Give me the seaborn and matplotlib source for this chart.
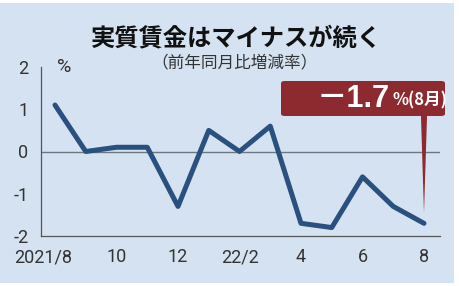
import matplotlib
matplotlib.use("Agg")
import matplotlib.pyplot as plt
import matplotlib.transforms as mtrans
import seaborn as sns
import pandas as pd
from matplotlib.patches import Rectangle, FancyBboxPatch, Polygon

months = ["2021/8", "9", "10", "11", "12", "22/1", "22/2", "3", "4", "5", "6", "7", "8"]
values = [1.1, 0.0, 0.1, 0.1, -1.3, 0.5, 0.0, 0.6, -1.7, -1.8, -0.6, -1.3, -1.7]
tick_labels = ["2021/8", "10", "12", "22/2", "4", "6", "8"]
y_ticks = [2, 1, 0, -1, -2]
title = "実質賃金はマイナスが続く"
subtitle = "（前年同月比増減率）"
callout_value = "－1.7"
callout_unit = "%(8月)"

sns.set_theme(style="white")
jp = ["Noto Sans CJK JP", "DejaVu Sans"]
plt.rcParams["font.family"] = ["Roboto", "Noto Sans CJK JP", "DejaVu Sans"]

bg = "#d5e2f1"
line_c = "#29507f"
red = "#8c2a2f"
txt = "#333333"

fig = plt.figure(figsize=(4.6, 2.86), dpi=100, facecolor="white")
fig.patches.append(Rectangle((0, 0.012), 0.988, 0.978, transform=fig.transFigure,
                             facecolor=bg, edgecolor="none", zorder=-5))
ax = fig.add_axes([41/460, 1-236/286, 399/460, 169/286])
ax.set_zorder(1)
ax.set_facecolor("none")

df = pd.DataFrame({"i": range(len(values)), "v": values})
ax.axhline(0, color="#6d7780", lw=1.0, zorder=1)
sns.lineplot(data=df, x="i", y="v", ax=ax, color=line_c, lw=3.6, zorder=3)

ax.set_xlim(-14/30.75, 12 + 16/30.75)
ax.set_ylim(-2, 2)
ax.set_yticks(y_ticks)
ax.set_yticklabels([str(t) for t in y_ticks], fontsize=13, color=txt)
ax.set_xticks(range(len(values)))
ax.set_xticklabels([m if m in tick_labels else "" for m in months], fontsize=13, color=txt)
ax.tick_params(axis="both", direction="in", length=5, width=0.9, color="#555555")
ax.tick_params(axis="x", pad=9)
ax.tick_params(axis="y", pad=9)
first = ax.get_xticklabels()[0]
first.set_transform(first.get_transform() +
                    mtrans.ScaledTranslation(-12/100, 0, fig.dpi_scale_trans))
for s in ["top", "right"]:
    ax.spines[s].set_visible(False)
for s in ["left", "bottom"]:
    ax.spines[s].set_color("#555555")
    ax.spines[s].set_linewidth(0.9)
ax.set_xlabel("")
ax.set_ylabel("")

ax.text(0.04, 1.0, "%", transform=ax.transAxes, fontsize=14, color=txt,
        va="center", ha="left")

fig.text(0.513, 1-38/286, title, fontsize=17.5, fontweight="bold", ha="center",
         va="center", color="#111111", family=jp)
fig.text(0.51, 1-63/286, subtitle, fontsize=12, ha="center", va="center",
         color=txt, family=jp)

# callout box
bx0, by0, bw, bh = 281/460, 1-116/286, 164/460, 35/286
fig.patches.append(FancyBboxPatch((bx0, by0), bw, bh, boxstyle="round,pad=0,rounding_size=0.008",
                                  transform=fig.transFigure, facecolor=red,
                                  edgecolor="none", zorder=5))
last_i = len(values) - 1
blend = mtrans.blended_transform_factory(ax.transData, fig.transFigure)
ptr = Polygon([(last_i - 0.1, by0 + 0.005), (last_i + 0.1, by0 + 0.005),
               (last_i, 0.255)], closed=True, transform=blend,
              facecolor=red, edgecolor="none", clip_on=False, zorder=4)
fig.patches.append(ptr)

fig.text(390/460, 1-99/286, callout_value, fontsize=22, fontweight="bold", color="white",
         ha="right", va="center", family=["Liberation Sans", "Noto Sans CJK JP"], zorder=6)
fig.text(393/460, 1-100/286, callout_unit, fontsize=12, fontweight="bold", color="white",
         ha="left", va="center", family=jp, zorder=6)

fig.savefig("out.png", dpi=100, facecolor="white")
